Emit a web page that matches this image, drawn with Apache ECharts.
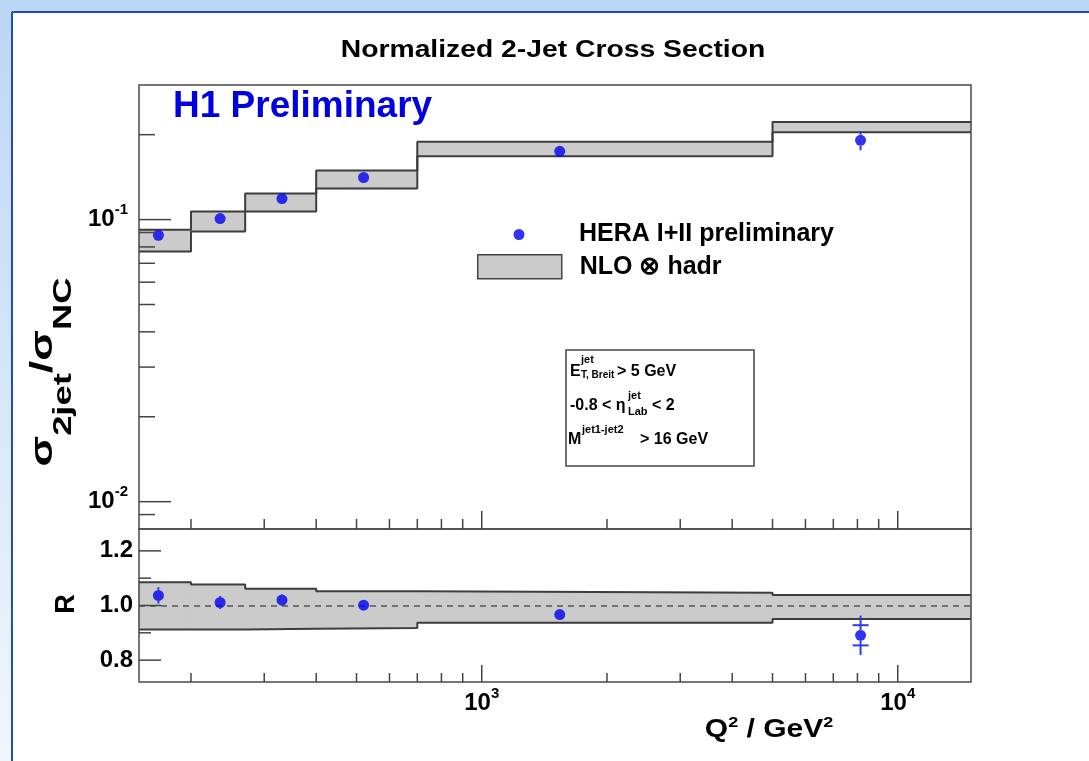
<!DOCTYPE html>
<html>
<head>
<meta charset="utf-8">
<script src="https://cdn.jsdelivr.net/npm/echarts@6/dist/echarts.min.js"></script>
<style>
  html, body { margin: 0; padding: 0; background: #ffffff; }
  #chart { width: 1089px; height: 761px; }
</style>
</head>
<body>
<div id="chart"></div>
<script>
// Q^2 bin edges in GeV^2, shared by both panels
const binEdges = [150, 200, 270, 400, 700, 5000, 15000];

// Measured normalised 2-jet cross section
const q2Points = [167, 235, 331, 520, 1540, 8140];
const sigmaRatio = [0.0880, 0.1008, 0.1187, 0.1410, 0.1746, 0.1910];
const sigmaErr = [0.0026, 0.0024, 0.0025, 0.0028, 0.0060, 0.0150];

// NLO x hadronisation prediction (band limits per bin)
const nloLow = [0.0770, 0.0907, 0.1068, 0.1288, 0.1676, 0.2040];
const nloHigh = [0.0921, 0.1068, 0.1237, 0.1492, 0.1886, 0.2220];

// Ratio data / theory
const ratio = [1.037, 1.011, 1.020, 1.001, 0.967, 0.891];
const ratioErrTot = [0.030, 0.024, 0.022, 0.020, 0.020, 0.072];
const ratioErrStat = [0.015, 0.012, 0.011, 0.011, 0.012, 0.037];
const ratioBandLow = [0.912, 0.912, 0.915, 0.918, 0.937, 0.951];
const ratioBandHigh = [1.085, 1.077, 1.061, 1.052, 1.047, 1.038];

// Axis ticks and labels
const xMajorTicks = [1000, 10000];
const xMinorTicks = [200, 300, 400, 500, 600, 700, 800, 900, 2000, 3000, 4000, 5000, 6000, 7000, 8000, 9000];
const yMajorTicks = [0.01, 0.1];
const yMinorTicks = [0.009, 0.02, 0.03, 0.04, 0.05, 0.06, 0.07, 0.08, 0.09, 0.2];
const rMajorTicks = [0.8, 1.0, 1.2];
const rMinorTicks = [0.9, 1.1];
const xLabelValues = [1000, 10000];
const yLabelValues = [0.01, 0.1];

const X_MIN = 150, X_MAX = 15000;
const Y_MIN = 0.008, Y_MAX = 0.3;
const R_MIN = 0.72, R_MAX = 1.28;

const FONT = '"Liberation Sans", Arial, Helvetica, sans-serif';
const BLUE = '#0000f0';
const BAR_BLUE = '#2a3cf0';
const EDGE = '#3d3d3d';
const BAND = '#cbcbcb';
const MARKER = 11;

const nBins = binEdges.length - 1;
const boxes = (lo, hi) => lo.map((v, i) => [binEdges[i], binEdges[i + 1], v, hi[i]]);
const stepEdge = vals => binEdges.map((e, i) => [e, vals[Math.min(i, nBins - 1)]]);

function renderBox(params, api) {
  const a = api.coord([api.value(0), api.value(3)]);
  const b = api.coord([api.value(1), api.value(2)]);
  return {
    type: 'rect',
    shape: { x: a[0], y: a[1], width: b[0] - a[0], height: b[1] - a[1] },
    style: { fill: BAND, stroke: BAND, lineWidth: 1 }
  };
}

// Error bars are drawn only outside the marker, the way the markers hide them
function makeErrRenderer(capHalf) {
  const r = MARKER / 2;
  return function (params, api) {
    const x = api.value(0);
    const c = api.coord([x, api.value(1)]);
    const top = api.coord([x, api.value(3)]);
    const bot = api.coord([x, api.value(2)]);
    const stroke = { stroke: BAR_BLUE, lineWidth: 2 };
    const children = [];
    if (c[1] - top[1] > r) {
      children.push({ type: 'line', shape: { x1: c[0], y1: top[1], x2: c[0], y2: c[1] - r }, style: stroke });
    }
    if (bot[1] - c[1] > r) {
      children.push({ type: 'line', shape: { x1: c[0], y1: c[1] + r, x2: c[0], y2: bot[1] }, style: stroke });
    }
    if (capHalf > 0) {
      [api.value(4), api.value(5)].forEach(v => {
        const p = api.coord([x, v]);
        if (Math.abs(p[1] - c[1]) > r) {
          children.push({ type: 'line', shape: { x1: p[0] - capHalf, y1: p[1], x2: p[0] + capHalf, y2: p[1] }, style: stroke });
        }
      });
    }
    return { type: 'group', children };
  };
}

function renderTick(params, api) {
  const p = api.coord([api.value(0), api.value(1)]);
  const len = api.value(2);
  const horizontal = api.value(3) === 1;
  return {
    type: 'line',
    shape: horizontal
      ? { x1: p[0], y1: p[1], x2: p[0] + len, y2: p[1] }
      : { x1: p[0], y1: p[1], x2: p[0], y2: p[1] - len },
    style: { stroke: '#444444', lineWidth: 1.5 }
  };
}

const upperTicks = []
  .concat(xMajorTicks.map(v => [v, Y_MIN, 18, 0]))
  .concat(xMinorTicks.map(v => [v, Y_MIN, 10, 0]))
  .concat(yMajorTicks.map(v => [X_MIN, v, 32, 1]))
  .concat(yMinorTicks.map(v => [X_MIN, v, 16, 1]));
const lowerTicks = []
  .concat(xMajorTicks.map(v => [v, R_MIN, 17, 0]))
  .concat(xMinorTicks.map(v => [v, R_MIN, 9, 0]))
  .concat(rMajorTicks.map(v => [X_MIN, v, 22, 1]))
  .concat(rMinorTicks.map(v => [X_MIN, v, 12, 1]));

const powRich = {
  b: { fontSize: 24, fontWeight: 'bold', fontFamily: FONT, color: '#000', lineHeight: 34 },
  s: { fontSize: 15, fontWeight: 'bold', fontFamily: FONT, color: '#000', verticalAlign: 'top' }
};
const powLabel = v => '{b|10}{s|' + Math.round(Math.log10(v)) + '}';

const hiddenAxis = {
  axisLine: { show: false }, axisTick: { show: false },
  splitLine: { show: false }, minorTick: { show: false }
};

const textEl = (text, x, y, size, extra) => ({
  type: 'text', x: x, y: y, z: 1,
  style: Object.assign({
    text: text, fill: '#000',
    font: 'bold ' + size + 'px ' + FONT,
    align: 'left', verticalAlign: 'middle'
  }, extra || {})
});

const chart = echarts.init(document.getElementById('chart'), null, { renderer: 'canvas', width: 1089, height: 761 });

chart.setOption({
  animation: false,
  backgroundColor: {
    type: 'linear', x: 0, y: 0, x2: 0, y2: 1,
    colorStops: [{ offset: 0, color: '#bcd6f6' }, { offset: 1, color: '#f1f6fd' }]
  },
  grid: [
    { left: 139, top: 85, width: 832, height: 444, show: true, z: 10,
      borderColor: '#4a4a4a', borderWidth: 1.5, backgroundColor: 'transparent' },
    { left: 139, top: 529, width: 832, height: 153, show: true, z: 10,
      borderColor: '#4a4a4a', borderWidth: 1.5, backgroundColor: 'transparent' }
  ],
  xAxis: [
    Object.assign({ gridIndex: 0, type: 'log', logBase: 10, min: X_MIN, max: X_MAX,
      axisLabel: { show: false } }, hiddenAxis),
    Object.assign({ gridIndex: 1, type: 'log', logBase: 10, min: X_MIN, max: X_MAX,
      axisLabel: { show: true, customValues: xLabelValues, margin: 4,
        formatter: powLabel, rich: powRich } }, hiddenAxis)
  ],
  yAxis: [
    Object.assign({ gridIndex: 0, type: 'log', logBase: 10, min: Y_MIN, max: Y_MAX,
      axisLabel: { show: true, customValues: yLabelValues, margin: 11,
        formatter: powLabel, rich: powRich } }, hiddenAxis),
    Object.assign({ gridIndex: 1, type: 'value', min: R_MIN, max: R_MAX,
      axisLabel: { show: true, customValues: rMajorTicks, margin: 6,
        formatter: v => v.toFixed(1),
        fontSize: 24, fontWeight: 'bold', fontFamily: FONT, color: '#000' } }, hiddenAxis)
  ],
  legend: [
    { left: 513.5, top: 222, padding: 0, itemGap: 0, itemWidth: 110, itemHeight: 11,
      selectedMode: false, icon: 'circle',
      data: [{ name: 'HERA I+II preliminary', itemStyle: { color: BLUE } }],
      textStyle: { fontSize: 25, fontWeight: 'bold', fontFamily: FONT, color: '#000', lineHeight: 24 } },
    { left: 477, top: 254, padding: 0, itemGap: 0, itemWidth: 84, itemHeight: 24,
      selectedMode: false, icon: 'rect',
      data: [{ name: 'NLO ⊗ hadr', itemStyle: { color: BAND, borderColor: '#444444', borderWidth: 1.5 } }],
      textStyle: { fontSize: 25, fontWeight: 'bold', fontFamily: FONT, color: '#000', lineHeight: 24,
        padding: [0, 0, 0, 13] } }
  ],
  graphic: [
    { type: 'rect', z: 0, shape: { x: 12, y: 12, width: 1077, height: 749 }, style: { fill: '#ffffff' } },
    { type: 'line', z: 0, shape: { x1: 12, y1: 12, x2: 12, y2: 761 }, style: { stroke: '#1f4fb0', lineWidth: 2 } },
    { type: 'line', z: 0, shape: { x1: 12, y1: 12, x2: 1089, y2: 12 }, style: { stroke: '#1f4fb0', lineWidth: 2 } },
    // title
    Object.assign(textEl('Normalized 2-Jet Cross Section', 553, 51, 23, { align: 'center' }), { scaleX: 1.23 }),
    // experiment tag
    textEl('H1 Preliminary', 173, 107, 37, { fill: '#0000e0' }),
    // selection cuts box
    { type: 'rect', z: 1, shape: { x: 566, y: 350, width: 188, height: 116 },
      style: { fill: '#ffffff', stroke: '#444444', lineWidth: 1.5 } },
    textEl('E', 570, 372, 16),
    textEl('jet', 581, 360, 11),
    textEl('T, Breit', 581, 375, 10),
    textEl('> 5 GeV', 617, 372, 16),
    textEl('-0.8 < η', 570, 406, 16),
    textEl('jet', 628, 396, 11),
    textEl('Lab', 628, 412, 11),
    textEl('< 2', 652, 406, 16),
    textEl('M', 568, 440, 16),
    textEl('jet1-jet2', 582, 430, 11),
    textEl('> 16 GeV', 640, 440, 16),
    // axis titles
    { type: 'text', z: 1, x: 52, y: 372, rotation: Math.PI / 2, scaleX: 1.4,
      style: {
        text: '{m|σ}{u|2jet}{m|/σ}{u|NC}',
        align: 'center', verticalAlign: 'middle',
        rich: {
          m: { fontSize: 32, fontWeight: 'bold', fontFamily: FONT, fill: '#000', verticalAlign: 'top' },
          u: { fontSize: 26, fontWeight: 'bold', fontFamily: FONT, fill: '#000', verticalAlign: 'top', padding: [23, 0, 0, 0] }
        }
      } },
    { type: 'text', z: 1, x: 67, y: 604, rotation: Math.PI / 2,
      style: { text: 'R', font: 'bold 27px ' + FONT, fill: '#000', align: 'center', verticalAlign: 'middle' } },
    { type: 'text', z: 1, x: 769, y: 730, scaleX: 1.2,
      style: {
        text: '{m|Q}{s|2}{m| / GeV}{s|2}',
        align: 'center', verticalAlign: 'middle',
        rich: {
          m: { fontSize: 25, fontWeight: 'bold', fontFamily: FONT, fill: '#000', lineHeight: 30 },
          s: { fontSize: 15, fontWeight: 'bold', fontFamily: FONT, fill: '#000', verticalAlign: 'top' }
        }
      } }
  ],
  series: [
    // ---- upper panel ----
    { name: 'NLO ⊗ hadr', type: 'custom', xAxisIndex: 0, yAxisIndex: 0, z: 2,
      itemStyle: { color: BAND },
      encode: { x: [0, 1], y: [2, 3] }, renderItem: renderBox, data: boxes(nloLow, nloHigh) },
    { name: 'nlo-high', type: 'line', xAxisIndex: 0, yAxisIndex: 0, z: 3, step: 'end', symbol: 'none',
      lineStyle: { color: EDGE, width: 2 }, data: stepEdge(nloHigh) },
    { name: 'nlo-low', type: 'line', xAxisIndex: 0, yAxisIndex: 0, z: 3, step: 'end', symbol: 'none',
      lineStyle: { color: EDGE, width: 2 }, data: stepEdge(nloLow) },
    { name: 'sigma-err', type: 'custom', xAxisIndex: 0, yAxisIndex: 0, z: 4,
      encode: { x: 0, y: 1 }, renderItem: makeErrRenderer(0),
      data: q2Points.map((q, i) => [q, sigmaRatio[i], sigmaRatio[i] - sigmaErr[i], sigmaRatio[i] + sigmaErr[i]]) },
    { name: 'HERA I+II preliminary', type: 'scatter', xAxisIndex: 0, yAxisIndex: 0, z: 5,
      symbol: 'circle', symbolSize: MARKER, itemStyle: { color: BLUE },
      data: q2Points.map((q, i) => [q, sigmaRatio[i]]) },
    { name: 'ticks-upper', type: 'custom', xAxisIndex: 0, yAxisIndex: 0, z: 11,
      encode: { x: 0, y: 1 }, renderItem: renderTick, data: upperTicks },

    // ---- ratio panel ----
    { name: 'ratio-band', type: 'custom', xAxisIndex: 1, yAxisIndex: 1, z: 2,
      encode: { x: [0, 1], y: [2, 3] }, renderItem: renderBox, data: boxes(ratioBandLow, ratioBandHigh),
      markLine: { silent: true, symbol: 'none', label: { show: false },
        lineStyle: { type: [6, 5], color: '#555555', width: 1.5 }, data: [{ yAxis: 1 }] } },
    { name: 'ratio-high', type: 'line', xAxisIndex: 1, yAxisIndex: 1, z: 3, step: 'end', symbol: 'none',
      lineStyle: { color: EDGE, width: 2 }, data: stepEdge(ratioBandHigh) },
    { name: 'ratio-low', type: 'line', xAxisIndex: 1, yAxisIndex: 1, z: 3, step: 'end', symbol: 'none',
      lineStyle: { color: EDGE, width: 2 }, data: stepEdge(ratioBandLow) },
    { name: 'ratio-err', type: 'custom', xAxisIndex: 1, yAxisIndex: 1, z: 4,
      encode: { x: 0, y: 1 }, renderItem: makeErrRenderer(8),
      data: q2Points.map((q, i) => [q, ratio[i],
        ratio[i] - ratioErrTot[i], ratio[i] + ratioErrTot[i],
        ratio[i] - ratioErrStat[i], ratio[i] + ratioErrStat[i]]) },
    { name: 'ratio', type: 'scatter', xAxisIndex: 1, yAxisIndex: 1, z: 5,
      symbol: 'circle', symbolSize: MARKER, itemStyle: { color: BLUE },
      data: q2Points.map((q, i) => [q, ratio[i]]) },
    { name: 'ticks-lower', type: 'custom', xAxisIndex: 1, yAxisIndex: 1, z: 11,
      encode: { x: 0, y: 1 }, renderItem: renderTick, data: lowerTicks }
  ]
});
</script>
</body>
</html>
